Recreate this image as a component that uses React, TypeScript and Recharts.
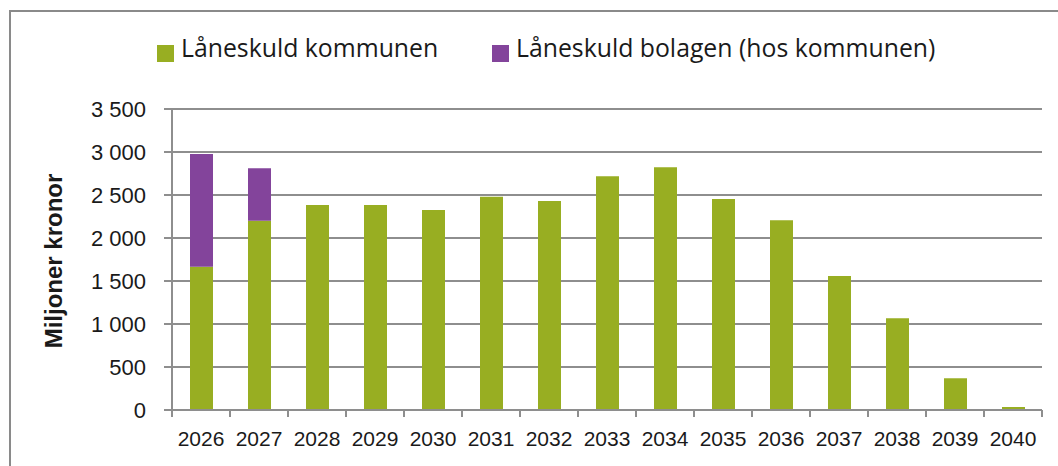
import { BarChart, Bar, XAxis, YAxis, CartesianGrid } from "recharts";

// years on the x axis
const years = [
  "2026", "2027", "2028", "2029", "2030", "2031", "2032", "2033",
  "2034", "2035", "2036", "2037", "2038", "2039", "2040",
];

// Miljoner kronor
const kommunen = [1666, 2201, 2384, 2384, 2326, 2480, 2430, 2717, 2822, 2453, 2206, 1558, 1066, 369, 35];
const bolagen = [1311, 609, 0, 0, 0, 0, 0, 0, 0, 0, 0, 0, 0, 0, 0];

const yTicks = [0, 500, 1000, 1500, 2000, 2500, 3000, 3500];

const seriesNames = ["Låneskuld kommunen", "Låneskuld bolagen (hos kommunen)"];
const seriesColors = ["#98AE22", "#83449B"];

const GRID = "#8e8e8e";
const TICK_FONT = "'Liberation Sans', Arial, sans-serif";

const data = years.map((year, i) => ({
  year,
  kommunen: kommunen[i],
  bolagen: bolagen[i],
}));

// thousands separated with a space, e.g. "3 500"
const formatTick = (v: number) => v.toString().replace(/\B(?=(\d{3})+(?!\d))/g, " ");

function XTick(props: any) {
  const { x, y, payload, index, visibleTicksCount } = props;
  const half = payload?.offset || 29;
  const last = index === (visibleTicksCount ?? years.length) - 1;
  return (
    <g>
      <line x1={x - half} x2={x - half} y1={y} y2={y + 7} stroke={GRID} strokeWidth={2} />
      {last && <line x1={x + half} x2={x + half} y1={y} y2={y + 7} stroke={GRID} strokeWidth={2} />}
      <text x={x} y={y + 36} textAnchor="middle" fontSize={21} fontFamily={TICK_FONT} fill="#1a1a1a">
        {payload.value}
      </text>
    </g>
  );
}

const renderYLabel = () => (
  <text
    transform="translate(62,261) rotate(-90)"
    textAnchor="middle"
    fontSize={24}
    fontWeight="bold"
    fontFamily={TICK_FONT}
    fill="#1a1a1a"
  >
    Miljoner kronor
  </text>
);

function LegendBox() {
  const itemX = [157, 492];
  return (
    <svg width={1058} height={80} style={{ position: "absolute", left: 0, top: 0 }}>
      {seriesNames.map((name, i) => (
        <g key={name}>
          <rect x={itemX[i]} y={45} width={17} height={17} fill={seriesColors[i]} />
          <text
            x={itemX[i] + 24}
            y={57}
            fontSize={24.8}
            fontFamily="'Open Sans', sans-serif"
            fill="#1a1a1a"
          >
            {name}
          </text>
        </g>
      ))}
    </svg>
  );
}

export default function App() {
  return (
    <div
      style={{
        position: "fixed",
        left: 0,
        top: 0,
        width: 1058,
        height: 466,
        background: "#fff",
        overflow: "hidden",
      }}
    >
      <div
        style={{
          position: "absolute",
          left: 9,
          top: 10,
          width: 1100,
          height: 500,
          borderLeft: "2px solid #8a8a8a",
          borderTop: "2px solid #8a8a8a",
        }}
      />
      <BarChart
        width={1058}
        height={466}
        data={data}
        margin={{ top: 109, right: 16, bottom: 0, left: 0 }}
        barSize={23}
        style={{ position: "absolute", left: 0, top: 0 }}
      >
        <CartesianGrid horizontal vertical={false} stroke={GRID} strokeWidth={2} />
        <XAxis
          dataKey="year"
          height={56}
          axisLine={{ stroke: GRID, strokeWidth: 2 }}
          tickLine={false}
          tickSize={0}
          tickMargin={0}
          interval={0}
          tick={<XTick />}
        />
        <YAxis
          width={172}
          domain={[0, 3500]}
          ticks={yTicks}
          interval={0}
          tickFormatter={formatTick}
          axisLine={{ stroke: GRID, strokeWidth: 2 }}
          tickLine={{ stroke: GRID, strokeWidth: 2 }}
          tickSize={8}
          tickMargin={18}
          tick={{ fontSize: 22, fontFamily: TICK_FONT, fill: "#1a1a1a" }}
          label={renderYLabel}
        />
        <Bar dataKey="kommunen" stackId="a" fill={seriesColors[0]} isAnimationActive={false} />
        <Bar dataKey="bolagen" stackId="a" fill={seriesColors[1]} isAnimationActive={false} />
      </BarChart>
      <LegendBox />
    </div>
  );
}
